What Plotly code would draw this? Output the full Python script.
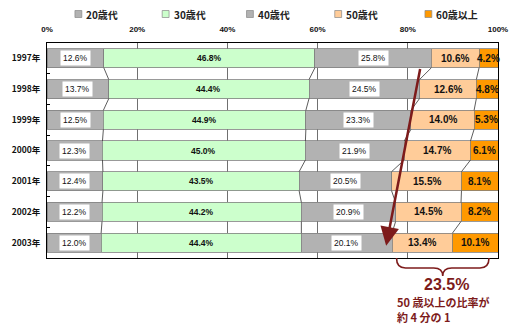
import plotly.graph_objects as go

years = ['1997年', '1998年', '1999年', '2000年', '2001年', '2002年', '2003年']
series_names = ['20歳代', '30歳代', '40歳代', '50歳代', '60歳以上']
s20 = [12.6, 13.7, 12.5, 12.3, 12.4, 12.2, 12.0]
s30 = [46.8, 44.4, 44.9, 45.0, 43.5, 44.2, 44.4]
s40 = [25.8, 24.5, 23.3, 21.9, 20.5, 20.9, 20.1]
s50 = [10.6, 12.6, 14.0, 14.7, 15.5, 14.5, 13.4]
s60 = [4.2, 4.8, 5.3, 6.1, 8.1, 8.2, 10.1]
tick_vals = [0, 20, 40, 60, 80, 100]
tick_text = ['0%', '20%', '40%', '60%', '80%', '100%']
callout_total = '23.5%'
callout_lines = ['50 歳以上の比率が', '約 4 分の 1']

series = [s20, s30, s40, s50, s60]
colors = ['#b2b2b2', '#ccffcc', '#b2b2b2', '#ffcc99', '#ff9900']
FONT = 'Liberation Sans, Arial, Noto Sans CJK JP'
JFONT = 'Noto Sans CJK JP, Liberation Sans'
DARKRED = '#7d1b1b'
BAR_W = 0.62

L, R, T, B = 41, 19, 43, 70
W, H = 520, 328
PW, PH = W - L - R, H - T - B


def px_x(p):
    return (p - L) / PW


def px_y(p):
    return (H - B - p) / PH


n = len(years)
ypos = list(range(n))

fig = go.Figure()

for name, vals, col in zip(series_names, series, colors):
    fig.add_trace(go.Bar(
        x=vals, y=ypos, orientation='h', name=name, width=BAR_W,
        marker=dict(color=col, line=dict(color='#808080', width=0.8)),
        showlegend=False, hoverinfo='skip'))

# cumulative boundaries
cums = []
for i in range(n):
    c = [0.0]
    for s in series:
        c.append(c[-1] + s[i])
    cums.append(c)

# connector lines between bars
for k in range(1, len(series)):
    xs, ys = [], []
    for i in range(n - 1):
        xs += [cums[i][k], cums[i + 1][k], None]
        ys += [i + BAR_W / 2, i + 1 - BAR_W / 2, None]
    fig.add_trace(go.Scatter(x=xs, y=ys, mode='lines',
                             line=dict(color='#333333', width=0.8),
                             showlegend=False, hoverinfo='skip'))

annotations = []
for i in range(n):
    for k, s in enumerate(series):
        cx = cums[i][k] + s[i] / 2
        txt = f'{s[i]:.1f}%'
        if k in (0, 2):
            annotations.append(dict(x=cx, y=i, xref='x', yref='y', text=txt,
                                    showarrow=False, bgcolor='white', borderpad=2,
                                    font=dict(family=FONT, size=8.5, color='#111')))
        elif k == 1:
            annotations.append(dict(x=cx, y=i, xref='x', yref='y', text=f'<b>{txt}</b>',
                                    showarrow=False,
                                    font=dict(family=FONT, size=8.5, color='#111')))
        else:
            annotations.append(dict(x=cx, y=i, xref='x', yref='y', text=f'<b>{txt}</b>',
                                    showarrow=False,
                                    font=dict(family=FONT, size=10, color='#111')))

# legend drawn at the top
leg_sq = [73, 162, 248, 338, 430]
shapes = []
for name, col, sx in zip(series_names, colors, leg_sq):
    shapes.append(dict(type='rect', xref='paper', yref='paper',
                       x0=px_x(sx - 3.5), x1=px_x(sx + 3.5),
                       y0=px_y(14 + 3.5), y1=px_y(14 - 3.5),
                       fillcolor=col, line=dict(color='#888888', width=0.7)))
    annotations.append(dict(x=px_x(sx + 6), y=px_y(14), xref='paper', yref='paper',
                            xanchor='left', yanchor='middle', showarrow=False,
                            text=f'<b>{name}</b>',
                            font=dict(family=JFONT, size=10, color='#222')))

# arrow
annotations.append(dict(x=75.2, y=6.1, xref='x', yref='y',
                        ax=82.8, ay=0.3, axref='x', ayref='y',
                        showarrow=True, arrowhead=2, arrowsize=1.5, arrowwidth=2.5,
                        arrowcolor=DARKRED, text=''))

# brace under 50+ segments of last year
bx0, bx1 = 77.5, 98.0
bm = (bx0 + bx1) / 2
yt, ym, yb = px_y(258), px_y(268), px_y(276)
path = (f'M {bx0},{yt} Q {bx0},{ym} {bx0 + 2},{ym} L {bm - 2},{ym} '
        f'Q {bm},{ym} {bm},{yb} Q {bm},{ym} {bm + 2},{ym} L {bx1 - 2},{ym} '
        f'Q {bx1},{ym} {bx1},{yt}')
shapes.append(dict(type='path', xref='x', yref='paper', path=path,
                   line=dict(color=DARKRED, width=1.6)))

annotations.append(dict(x=px_x(448), y=px_y(284), xref='paper', yref='paper',
                        xanchor='center', yanchor='middle',
                        text=f'<b>{callout_total}</b>', showarrow=False,
                        font=dict(family=FONT, size=16, color=DARKRED)))
annotations.append(dict(x=px_x(396), y=px_y(302), xref='paper', yref='paper',
                        xanchor='left', yanchor='middle',
                        text=f'<b>{callout_lines[0]}</b>', showarrow=False,
                        font=dict(family=JFONT, size=11, color=DARKRED)))
annotations.append(dict(x=px_x(396), y=px_y(317), xref='paper', yref='paper',
                        xanchor='left', yanchor='middle',
                        text=f'<b>{callout_lines[1]}</b>', showarrow=False,
                        font=dict(family=JFONT, size=11, color=DARKRED)))

fig.update_layout(
    width=W, height=H, margin=dict(l=L, r=R, t=T, b=B),
    barmode='stack', plot_bgcolor='white', paper_bgcolor='white',
    showlegend=False, annotations=annotations, shapes=shapes,
    xaxis=dict(range=[0, 100], side='top', tickvals=tick_vals, ticktext=tick_text,
               showgrid=True, gridcolor='#707070', gridwidth=1, zeroline=False,
               showline=True, linecolor='#000', linewidth=1, mirror=True,
               ticks='', ticklabelstandoff=7,
               tickfont=dict(family=FONT, size=8, color='#111', weight='bold'),
               fixedrange=True),
    yaxis=dict(range=[n - 0.5, -0.5], tickvals=ypos, ticktext=years,
               showgrid=False, zeroline=False, showline=True, linecolor='#000',
               linewidth=1, mirror=True, ticks='', ticklabelstandoff=4,
               tickfont=dict(family=JFONT, size=8.5, color='#111', weight='bold'),
               minor=dict(tickvals=[i + 0.5 for i in range(n - 1)], ticks='inside',
                          ticklen=3, tickcolor='#000'),
               fixedrange=True),
)

fig.write_html('out.html')
